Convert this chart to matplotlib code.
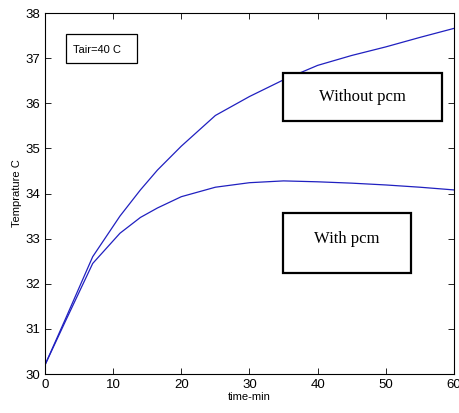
import matplotlib
matplotlib.use('Agg')
import matplotlib.pyplot as plt
import matplotlib.patches as mpatches

# ── data ─────────────────────────────────────────────────────────────────────
t_min = [0, 3, 7, 11, 14, 16.5, 20, 25, 30, 35, 40, 45, 50, 55, 60]
T_sin_pcm = [30.2, 31.22, 32.6, 33.5, 34.08, 34.52, 35.05, 35.73, 36.15, 36.52,
             36.84, 37.06, 37.25, 37.46, 37.66]
T_con_pcm = [30.2, 31.17, 32.45, 33.12, 33.47, 33.68, 33.93, 34.14, 34.24, 34.28,
             34.26, 34.23, 34.19, 34.14, 34.08]

xticks = [0, 10, 20, 30, 40, 50, 60]
yticks = [30, 31, 32, 33, 34, 35, 36, 37, 38]

plt.rcParams['font.family'] = ['Liberation Sans', 'DejaVu Sans']

fig = plt.figure(figsize=(4.59, 4.13), dpi=100)
ax = fig.add_axes([0.098, 0.0944, 0.891, 0.874])

ax.plot(t_min, T_sin_pcm, color='#2020c0', lw=0.9)
ax.plot(t_min, T_con_pcm, color='#2020c0', lw=0.9)

ax.set_xlim(0, 60); ax.set_ylim(30, 38)
ax.set_xticks(xticks); ax.set_yticks(yticks)
ax.tick_params(direction='in', top=True, right=True, labelsize=9.5, length=4, width=0.6)
for s in ax.spines.values():
    s.set_linewidth(0.8)
ax.set_xlabel('time-min', fontsize=8, labelpad=1)
ax.set_ylabel('Temprature C', fontsize=8, labelpad=2)

# cajas de texto
def caja(x0, y0, x1, y1, lw):
    ax.add_patch(mpatches.Rectangle((x0, y0), x1 - x0, y1 - y0, transform=ax.transAxes,
                                    fill=True, facecolor='white', edgecolor='black',
                                    lw=lw, zorder=5))

caja(0.051, 0.861, 0.225, 0.942, 0.9)
ax.text(0.068, 0.898, 'Tair=40 C', transform=ax.transAxes, fontsize=8,
        ha='left', va='center', zorder=6)

caja(0.582, 0.701, 0.971, 0.834, 1.6)
ax.text(0.776, 0.768, 'Without pcm', transform=ax.transAxes, fontsize=12,
        family='Liberation Serif', ha='center', va='center', zorder=6)

caja(0.582, 0.280, 0.895, 0.446, 1.6)
ax.text(0.738, 0.375, 'With pcm', transform=ax.transAxes, fontsize=12,
        family='Liberation Serif', ha='center', va='center', zorder=6)

plt.savefig('out.png', dpi=100)
